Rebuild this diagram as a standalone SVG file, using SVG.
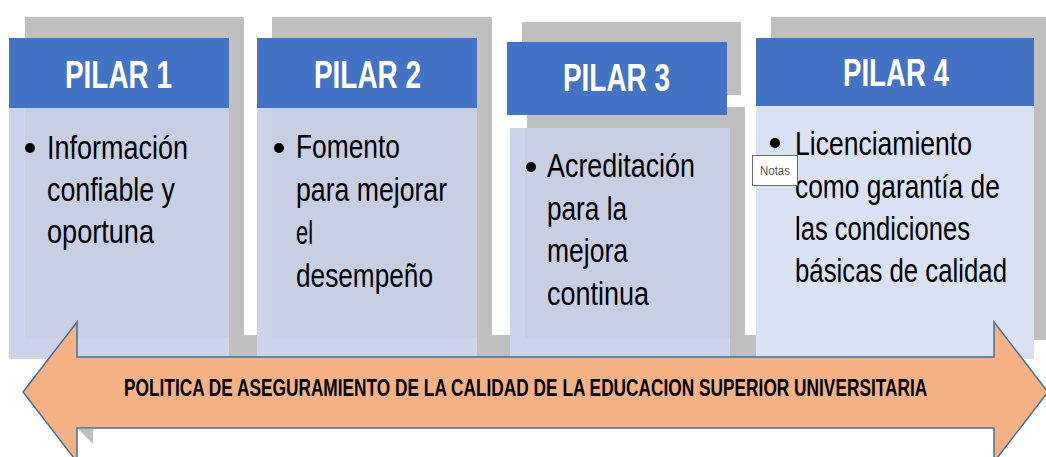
<svg xmlns="http://www.w3.org/2000/svg" width="1046" height="457" viewBox="0 0 1046 457">
<style>
.shadow{fill:#bfbfbf}
.head{fill:#4472c4}
.body{fill:#cdd3e8}
.inner{fill:#c9cfe3}
.body4{fill:#d9e1f2}
.ht{font-family:"Liberation Sans",Arial,sans-serif;font-weight:bold;font-size:38px;fill:#ffffff}
.bt{font-family:"Liberation Sans",Arial,sans-serif;font-size:33px;fill:#000000}
.at{font-family:"Liberation Sans",Arial,sans-serif;font-weight:bold;font-size:23px;fill:#000000}
.bul{fill:#000000}
</style>
<rect width="1046" height="457" fill="#ffffff"/>
<rect class="shadow" x="229" y="335" width="805" height="22"/>
<g id="pilar1">
  <rect class="shadow" x="25" y="17" width="219" height="338"/>
  <rect class="body" x="9" y="108" width="220" height="251"/>
  <rect class="inner" x="25" y="108" width="204" height="230"/>
  <rect class="head" x="9" y="38" width="220" height="70"/>
  <text class="ht" x="65" y="88" textLength="107" lengthAdjust="spacingAndGlyphs">PILAR 1</text>
  <circle class="bul" cx="30" cy="148" r="5"/>
  <text class="bt" x="47" y="159" textLength="141" lengthAdjust="spacingAndGlyphs">Información</text>
  <text class="bt" x="47" y="201" textLength="128" lengthAdjust="spacingAndGlyphs">confiable y</text>
  <text class="bt" x="47" y="243" textLength="107" lengthAdjust="spacingAndGlyphs">oportuna</text>
</g>
<g id="pilar2">
  <rect class="shadow" x="272" y="17" width="220" height="338"/>
  <rect class="body" x="257" y="108" width="220" height="251"/>
  <rect class="inner" x="272" y="108" width="205" height="230"/>
  <rect class="head" x="257" y="38" width="220" height="70"/>
  <text class="ht" x="314" y="88" textLength="107" lengthAdjust="spacingAndGlyphs">PILAR 2</text>
  <circle class="bul" cx="279" cy="148" r="5"/>
  <text class="bt" x="296" y="158" textLength="104" lengthAdjust="spacingAndGlyphs">Fomento</text>
  <text class="bt" x="296" y="201" textLength="151" lengthAdjust="spacingAndGlyphs">para mejorar</text>
  <text class="bt" x="296" y="244" textLength="17" lengthAdjust="spacingAndGlyphs">el</text>
  <text class="bt" x="296" y="287" textLength="137" lengthAdjust="spacingAndGlyphs">desempeño</text>
</g>
<g id="pilar3">
  <rect class="shadow" x="522" y="22" width="219" height="73"/>
  <rect class="shadow" x="527" y="107" width="218" height="248"/>
  <rect class="body" x="510" y="128" width="220" height="231"/>
  <rect class="inner" x="525" y="128" width="205" height="210"/>
  <rect class="head" x="507" y="42" width="220" height="73"/>
  <text class="ht" x="563" y="91" textLength="107" lengthAdjust="spacingAndGlyphs">PILAR 3</text>
  <circle class="bul" cx="531" cy="167" r="5"/>
  <text class="bt" x="547" y="177" textLength="148" lengthAdjust="spacingAndGlyphs">Acreditación</text>
  <text class="bt" x="547" y="220" textLength="80" lengthAdjust="spacingAndGlyphs">para la</text>
  <text class="bt" x="547" y="262" textLength="81" lengthAdjust="spacingAndGlyphs">mejora</text>
  <text class="bt" x="547" y="305" textLength="102" lengthAdjust="spacingAndGlyphs">continua</text>
</g>
<g id="pilar4">
  <rect class="shadow" x="771" y="17" width="275" height="323"/>
  <rect class="body4" x="756" y="106" width="278" height="253"/>
  <rect class="head" x="756" y="38" width="278" height="68"/>
  <text class="ht" x="843" y="86" textLength="106" lengthAdjust="spacingAndGlyphs">PILAR 4</text>
  <circle class="bul" cx="775" cy="143" r="5"/>
  <text class="bt" x="795" y="155" textLength="177" lengthAdjust="spacingAndGlyphs">Licenciamiento</text>
  <text class="bt" transform="translate(795,198) scale(0.8,1)" x="0" y="0" textLength="256" lengthAdjust="spacingAndGlyphs">como garantía de</text>
  <text class="bt" x="795" y="240" textLength="175" lengthAdjust="spacingAndGlyphs">las condiciones</text>
  <text class="bt" transform="translate(795,282) scale(0.8,1)" x="0" y="0" textLength="265" lengthAdjust="spacingAndGlyphs">básicas de calidad</text>
</g>
<g id="notas">
  <rect x="752.5" y="155.5" width="45" height="30" fill="#ffffff" stroke="#6b6b6b" stroke-width="1"/>
  <text x="760" y="175" font-family="Liberation Sans,Arial,sans-serif" font-size="12" fill="#555555" textLength="30" lengthAdjust="spacingAndGlyphs">Notas</text>
</g>
<g id="policy-arrow">
  <polygon class="shadow" points="78,429 93,429 93,444"/>
  <polygon points="23,392 77,322 77,357 994,357 994,322 1048,392 994,462 994,428 77,428 77,462" fill="#f4b183" stroke="#41719c" stroke-width="1.5" stroke-linejoin="miter"/>
  <text class="at" transform="translate(124,396) scale(0.75,1)" x="0" y="0" textLength="1071" lengthAdjust="spacingAndGlyphs">POLITICA DE ASEGURAMIENTO DE LA CALIDAD DE LA EDUCACION SUPERIOR UNIVERSITARIA</text>
</g>
</svg>
